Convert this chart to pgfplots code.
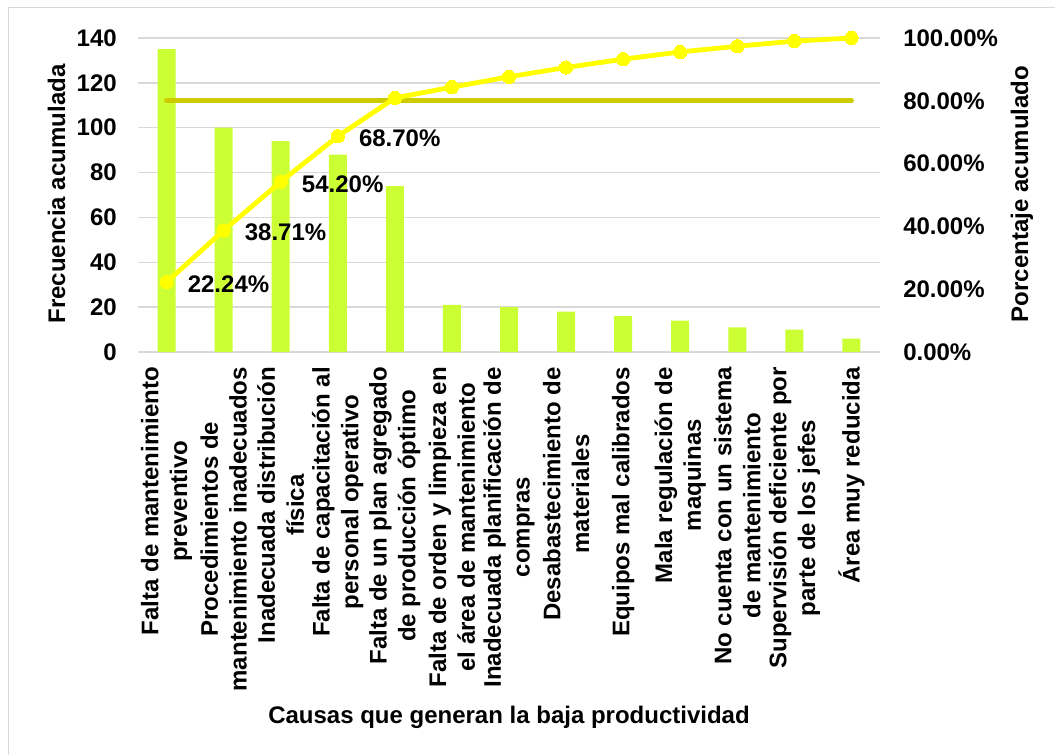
\documentclass[border=0pt]{standalone}
\usepackage{pgfplots}
\pgfplotsset{compat=1.18}
\usepackage{fontspec}
\setmainfont{Liberation Sans}
\definecolor{barcol}{RGB}{204,255,51}
\definecolor{pareto}{RGB}{255,255,0}
\definecolor{cutoff}{RGB}{204,204,0}
\definecolor{gridgray}{RGB}{217,217,217}
\begin{document}
\fontsize{18}{21.6}\selectfont\bfseries
\begin{tikzpicture}[font=\fontsize{18}{21.6}\selectfont\bfseries]
\useasboundingbox (0,0) rectangle (791.25pt,-566.25pt);
% frame
\draw[gridgray, line width=0.75pt] (6pt,-566.25pt) -- (6pt,-6pt) -- (791.25pt,-6pt);
\pgfplotsset{
  base/.style={
    at={(103.5pt,-264pt)}, anchor=south west,
    scale only axis, width=556.5pt, height=235.5pt,
    xmin=-0.5, xmax=12.5, ymin=0,
    axis line style={draw=none},
    major tick length=0pt,
    /pgf/number format/assume math mode=true,
  }
}
% frequencies (left axis)
\begin{axis}[base,
  ymax=140, ytick={0,20,...,140},
  ymajorgrids, grid style={gridgray, line width=1pt},
  yticklabel style={anchor=east, inner sep=0pt, xshift=-15.75pt},
  xtick={0,...,12},
  xticklabels={
    {Falta de mantenimiento\\preventivo},
    {Procedimientos de\\mantenimiento inadecuados},
    {Inadecuada distribución\\física},
    {Falta de capacitación al\\personal operativo},
    {Falta de un plan agregado\\de producción óptimo},
    {Falta de orden y limpieza en\\el área de mantenimiento},
    {Inadecuada planificación de\\compras},
    {Desabastecimiento de\\materiales},
    {Equipos mal calibrados},
    {Mala regulación de\\maquinas},
    {No cuenta con un sistema\\de mantenimiento},
    {Supervisión deficiente por\\parte de los jefes},
    {Área muy reducida}},
  xticklabel style={yshift=-11.25pt, rotate=90, anchor=east, inner sep=0pt, align=center},
]
\addplot[ybar, bar width=13.5pt, fill=barcol, draw=none] coordinates {
  (0,135) (1,100) (2,94) (3,88) (4,74) (5,21) (6,20)
  (7,18) (8,16) (9,14) (10,11) (11,10) (12,6)};
\end{axis}
% cumulative percentage (right axis)
\begin{axis}[base,
  ymax=100, ytick={0,20,...,100},
  xtick=\empty, clip=false,
  yticklabel pos=right,
  yticklabel style={anchor=west, inner sep=0pt, xshift=17.25pt},
  yticklabel={\pgfmathprintnumber[fixed,fixed zerofill,precision=2]{\tick}\%},
]
% 80 % cut-off
\addplot[cutoff, line width=3.75pt, line cap=round] coordinates {(0,80) (12,80)};
\addplot[pareto, line width=3.6pt, mark=*, mark size=5pt,
  mark options={fill=pareto, draw=pareto, line width=0pt}] coordinates {
  (0,22.24) (1,38.71) (2,54.20) (3,68.70) (4,80.89) (5,84.35) (6,87.64)
  (7,90.61) (8,93.25) (9,95.55) (10,97.36) (11,99.01) (12,100)};
\addplot[draw=none, mark=none, point meta=y,
  nodes near coords={\pgfmathprintnumber[fixed,fixed zerofill,precision=2]{\pgfplotspointmeta}\%},
  every node near coord/.append style={anchor=west, inner sep=0pt, xshift=15.75pt, yshift=-1.5pt, black}]
  coordinates {(0,22.24) (1,38.71) (2,54.20) (3,68.70)};
\end{axis}
% axis titles
\node[rotate=90, anchor=base] at (48.75pt,-145.5pt) {Frecuencia acumulada};
\node[rotate=90, anchor=base] at (771pt,-145.5pt) {Porcentaje acumulado};
\node[anchor=base] at (381.75pt,-542.25pt) {Causas que generan la baja productividad};
\end{tikzpicture}
\end{document}
